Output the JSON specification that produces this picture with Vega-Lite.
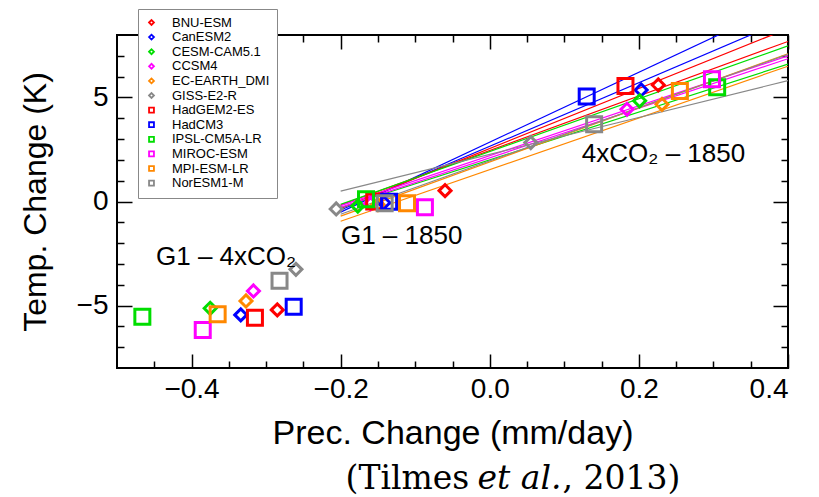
{
  "$schema": "https://vega.github.io/schema/vega-lite/v6.json",
  "width": 671,
  "height": 333,
  "autosize": {"type": "none"},
  "padding": {"left": 117, "top": 35, "right": 31, "bottom": 129},
  "background": "white",
  "config": {
    "font": "Liberation Sans",
    "view": {"stroke": "black", "strokeWidth": 2},
    "axis": {"domain": false, "grid": false, "tickColor": "black", "tickWidth": 1.5, "labelColor": "black", "titleColor": "black", "titleFontWeight": "normal", "labelFont": "Liberation Sans", "titleFont": "Liberation Sans"}
  },
  "datasets": {
    "pts": [
      {"model": "BNU-ESM", "group": "4xCO2 - 1850", "x": 0.226, "y": 5.6},
      {"model": "CanESM2", "group": "4xCO2 - 1850", "x": 0.203, "y": 5.36},
      {"model": "CESM-CAM5.1", "group": "4xCO2 - 1850", "x": 0.201, "y": 4.84},
      {"model": "CCSM4", "group": "4xCO2 - 1850", "x": 0.184, "y": 4.43},
      {"model": "EC-EARTH_DMI", "group": "4xCO2 - 1850", "x": 0.231, "y": 4.67},
      {"model": "GISS-E2-R", "group": "4xCO2 - 1850", "x": 0.055, "y": 2.83},
      {"model": "HadGEM2-ES", "group": "4xCO2 - 1850", "x": 0.182, "y": 5.55},
      {"model": "HadCM3", "group": "4xCO2 - 1850", "x": 0.13, "y": 5.04},
      {"model": "IPSL-CM5A-LR", "group": "4xCO2 - 1850", "x": 0.305, "y": 5.49},
      {"model": "MIROC-ESM", "group": "4xCO2 - 1850", "x": 0.298, "y": 5.87},
      {"model": "MPI-ESM-LR", "group": "4xCO2 - 1850", "x": 0.255, "y": 5.31},
      {"model": "NorESM1-M", "group": "4xCO2 - 1850", "x": 0.14, "y": 3.71},
      {"model": "BNU-ESM", "group": "G1 - 1850", "x": -0.06, "y": 0.52},
      {"model": "CanESM2", "group": "G1 - 1850", "x": -0.142, "y": -0.06},
      {"model": "CESM-CAM5.1", "group": "G1 - 1850", "x": -0.177, "y": -0.22},
      {"model": "CCSM4", "group": "G1 - 1850", "x": -0.16, "y": -0.1},
      {"model": "EC-EARTH_DMI", "group": "G1 - 1850", "x": -0.15, "y": -0.15},
      {"model": "GISS-E2-R", "group": "G1 - 1850", "x": -0.206, "y": -0.36},
      {"model": "HadGEM2-ES", "group": "G1 - 1850", "x": -0.155, "y": 0.0},
      {"model": "HadCM3", "group": "G1 - 1850", "x": -0.135, "y": -0.01},
      {"model": "IPSL-CM5A-LR", "group": "G1 - 1850", "x": -0.166, "y": 0.11},
      {"model": "MIROC-ESM", "group": "G1 - 1850", "x": -0.087, "y": -0.28},
      {"model": "MPI-ESM-LR", "group": "G1 - 1850", "x": -0.111, "y": -0.09},
      {"model": "NorESM1-M", "group": "G1 - 1850", "x": -0.141, "y": -0.09},
      {"model": "BNU-ESM", "group": "G1 - 4xCO2", "x": -0.285, "y": -5.21},
      {"model": "CanESM2", "group": "G1 - 4xCO2", "x": -0.334, "y": -5.45},
      {"model": "CESM-CAM5.1", "group": "G1 - 4xCO2", "x": -0.375, "y": -5.13},
      {"model": "CCSM4", "group": "G1 - 4xCO2", "x": -0.317, "y": -4.3},
      {"model": "EC-EARTH_DMI", "group": "G1 - 4xCO2", "x": -0.327, "y": -4.78},
      {"model": "GISS-E2-R", "group": "G1 - 4xCO2", "x": -0.26, "y": -3.26},
      {"model": "HadGEM2-ES", "group": "G1 - 4xCO2", "x": -0.315, "y": -5.58},
      {"model": "HadCM3", "group": "G1 - 4xCO2", "x": -0.263, "y": -5.06},
      {"model": "IPSL-CM5A-LR", "group": "G1 - 4xCO2", "x": -0.466, "y": -5.54},
      {"model": "MIROC-ESM", "group": "G1 - 4xCO2", "x": -0.385, "y": -6.17},
      {"model": "MPI-ESM-LR", "group": "G1 - 4xCO2", "x": -0.365, "y": -5.42},
      {"model": "NorESM1-M", "group": "G1 - 4xCO2", "x": -0.282, "y": -3.81}
    ],
    "fits": [
      {"fit": "HadCM3", "x": -0.2, "y": -0.51}, {"fit": "HadCM3", "x": 0.4, "y": 9.57},
      {"fit": "CanESM2", "x": -0.2, "y": -0.41}, {"fit": "CanESM2", "x": 0.4, "y": 8.77},
      {"fit": "BNU-ESM", "x": -0.2, "y": -0.33}, {"fit": "BNU-ESM", "x": 0.4, "y": 8.31},
      {"fit": "HadGEM2-ES", "x": -0.2, "y": -0.17}, {"fit": "HadGEM2-ES", "x": 0.4, "y": 7.69},
      {"fit": "CESM-CAM5.1", "x": -0.2, "y": -0.14}, {"fit": "CESM-CAM5.1", "x": 0.4, "y": 7.48},
      {"fit": "IPSL-CM5A-LR", "x": -0.2, "y": -0.3}, {"fit": "IPSL-CM5A-LR", "x": 0.4, "y": 6.6},
      {"fit": "CCSM4", "x": -0.2, "y": -0.2}, {"fit": "CCSM4", "x": 0.4, "y": 7.0},
      {"fit": "MIROC-ESM", "x": -0.2, "y": -0.28}, {"fit": "MIROC-ESM", "x": 0.4, "y": 6.86},
      {"fit": "EC-EARTH_DMI", "x": -0.2, "y": -0.95}, {"fit": "EC-EARTH_DMI", "x": 0.4, "y": 6.5},
      {"fit": "MPI-ESM-LR", "x": -0.2, "y": -0.7}, {"fit": "MPI-ESM-LR", "x": 0.4, "y": 7.1},
      {"fit": "GISS-E2-R", "x": -0.2, "y": 0.5}, {"fit": "GISS-E2-R", "x": 0.4, "y": 5.81},
      {"fit": "NorESM1-M", "x": -0.2, "y": -0.61}, {"fit": "NorESM1-M", "x": 0.4, "y": 7.07}
    ],
    "notes": [
      {"label": "4xCO₂ – 1850", "x": 0.1235, "y": 1.9},
      {"label": "G1 – 1850", "x": -0.1996, "y": -2.04},
      {"label": "G1 – 4xCO₂", "x": -0.4477, "y": -3.05}
    ],
    "cite": [
      {"part": "a", "text": "(Tilmes", "x": -0.0275, "y": -13.82},
      {"part": "b", "text": "et al.", "x": -0.0165, "y": -13.82},
      {"part": "c", "text": ", 2013)", "x": 0.0975, "y": -13.82}
    ]
  },
  "resolve": {"axis": {"x": "independent", "y": "independent"}},
  "layer": [
    {
      "data": {"name": "fits"},
      "mark": {"type": "line", "clip": true, "strokeWidth": 1.2},
      "encoding": {
        "x": {"field": "x", "type": "quantitative", "scale": {"domain": [-0.5, 0.4], "nice": false, "zero": false},
              "axis": {"orient": "bottom", "values": [-0.4, -0.2, 0, 0.2, 0.4], "ticks": false, "labelFontSize": 28, "labelPadding": 7, "format": ".1f", "title": "Prec. Change (mm/day)", "titleFontSize": 34, "titleY": 48, "titleBaseline": "top"}},
        "y": {"field": "y", "type": "quantitative", "scale": {"domain": [-8, 8], "nice": false, "zero": false},
              "axis": {"orient": "left", "values": [-5, 0, 5], "ticks": false, "labelFontSize": 28, "labelPadding": 9, "format": "d", "title": "Temp. Change (K)", "titleFontSize": 32, "titleX": -65, "titleBaseline": "bottom"}},
        "stroke": {"field": "fit", "type": "nominal", "legend": null,
                   "scale": {"domain": ["HadCM3", "CanESM2", "BNU-ESM", "HadGEM2-ES", "CESM-CAM5.1", "IPSL-CM5A-LR", "CCSM4", "MIROC-ESM", "EC-EARTH_DMI", "MPI-ESM-LR", "GISS-E2-R", "NorESM1-M"],
                             "range": ["#0000ff", "#0000ff", "#ff0000", "#ff0000", "#00dd00", "#00dd00", "#ff00ff", "#ff00ff", "#ff8800", "#ff8800", "#888888", "#888888"]}}
      }
    },
    {
      "data": {"name": "pts"},
      "transform": [{"filter": {"field": "model", "oneOf": ["BNU-ESM", "CanESM2", "CESM-CAM5.1", "CCSM4", "EC-EARTH_DMI", "GISS-E2-R"]}}],
      "mark": {"type": "point", "filled": false, "strokeWidth": 3, "opacity": 1, "size": 144},
      "encoding": {
        "x": {"field": "x", "type": "quantitative", "scale": {"domain": [-0.5, 0.4], "nice": false, "zero": false},
              "axis": {"orient": "bottom", "values": [-0.4, -0.2, 0, 0.2, 0.4], "labels": false, "tickSize": -14, "title": null}},
        "y": {"field": "y", "type": "quantitative", "scale": {"domain": [-8, 8], "nice": false, "zero": false},
              "axis": {"orient": "left", "values": [-5, 0, 5], "labels": false, "tickSize": -15, "title": null}},
        "color": {"field": "model", "type": "nominal",
                  "scale": {"domain": ["BNU-ESM", "CanESM2", "CESM-CAM5.1", "CCSM4", "EC-EARTH_DMI", "GISS-E2-R", "HadGEM2-ES", "HadCM3", "IPSL-CM5A-LR", "MIROC-ESM", "MPI-ESM-LR", "NorESM1-M"],
                            "range": ["#ff0000", "#0000ff", "#00dd00", "#ff00ff", "#ff8800", "#888888", "#ff0000", "#0000ff", "#00dd00", "#ff00ff", "#ff8800", "#888888"]},
                  "legend": {"title": null, "orient": "none", "legendX": 21, "legendY": -26, "labelFontSize": 13, "labelFont": "Liberation Sans", "labelColor": "black", "symbolSize": 24, "symbolStrokeWidth": 1.8, "rowPadding": 0.6, "padding": 7, "strokeColor": "#888888", "fillColor": "white", "labelOffset": 14}},
        "shape": {"field": "model", "type": "nominal",
                  "scale": {"domain": ["BNU-ESM", "CanESM2", "CESM-CAM5.1", "CCSM4", "EC-EARTH_DMI", "GISS-E2-R", "HadGEM2-ES", "HadCM3", "IPSL-CM5A-LR", "MIROC-ESM", "MPI-ESM-LR", "NorESM1-M"],
                            "range": ["diamond", "diamond", "diamond", "diamond", "diamond", "diamond", "square", "square", "square", "square", "square", "square"]},
                  "legend": {"title": null, "orient": "none", "legendX": 21, "legendY": -26, "labelFontSize": 13, "labelFont": "Liberation Sans", "labelColor": "black", "symbolSize": 24, "symbolStrokeWidth": 1.8, "rowPadding": 0.6, "padding": 7, "strokeColor": "#888888", "fillColor": "white", "labelOffset": 14}}
      }
    },
    {
      "data": {"name": "pts"},
      "transform": [{"filter": {"field": "model", "oneOf": ["HadGEM2-ES", "HadCM3", "IPSL-CM5A-LR", "MIROC-ESM", "MPI-ESM-LR", "NorESM1-M"]}}],
      "mark": {"type": "point", "filled": false, "strokeWidth": 3, "opacity": 1, "size": 225},
      "encoding": {
        "x": {"field": "x", "type": "quantitative", "scale": {"domain": [-0.5, 0.4], "nice": false, "zero": false}, "axis": null},
        "y": {"field": "y", "type": "quantitative", "scale": {"domain": [-8, 8], "nice": false, "zero": false}, "axis": null},
        "color": {"field": "model", "type": "nominal",
                  "scale": {"domain": ["BNU-ESM", "CanESM2", "CESM-CAM5.1", "CCSM4", "EC-EARTH_DMI", "GISS-E2-R", "HadGEM2-ES", "HadCM3", "IPSL-CM5A-LR", "MIROC-ESM", "MPI-ESM-LR", "NorESM1-M"],
                            "range": ["#ff0000", "#0000ff", "#00dd00", "#ff00ff", "#ff8800", "#888888", "#ff0000", "#0000ff", "#00dd00", "#ff00ff", "#ff8800", "#888888"]},
                  "legend": {"title": null, "orient": "none", "legendX": 21, "legendY": -26, "labelFontSize": 13, "labelFont": "Liberation Sans", "labelColor": "black", "symbolSize": 24, "symbolStrokeWidth": 1.8, "rowPadding": 0.6, "padding": 7, "strokeColor": "#888888", "fillColor": "white", "labelOffset": 14}},
        "shape": {"field": "model", "type": "nominal",
                  "scale": {"domain": ["BNU-ESM", "CanESM2", "CESM-CAM5.1", "CCSM4", "EC-EARTH_DMI", "GISS-E2-R", "HadGEM2-ES", "HadCM3", "IPSL-CM5A-LR", "MIROC-ESM", "MPI-ESM-LR", "NorESM1-M"],
                            "range": ["diamond", "diamond", "diamond", "diamond", "diamond", "diamond", "square", "square", "square", "square", "square", "square"]},
                  "legend": {"title": null, "orient": "none", "legendX": 21, "legendY": -26, "labelFontSize": 13, "labelFont": "Liberation Sans", "labelColor": "black", "symbolSize": 24, "symbolStrokeWidth": 1.8, "rowPadding": 0.6, "padding": 7, "strokeColor": "#888888", "fillColor": "white", "labelOffset": 14}}
      }
    },
    {
      "data": {"name": "notes"},
      "mark": {"type": "text", "align": "left", "baseline": "alphabetic", "fontSize": 26, "font": "Liberation Sans", "color": "black"},
      "encoding": {
        "x": {"field": "x", "type": "quantitative", "scale": {"domain": [-0.5, 0.4], "nice": false, "zero": false},
              "axis": {"orient": "bottom", "values": [-0.45, -0.35, -0.3, -0.25, -0.15, -0.1, -0.05, 0.05, 0.1, 0.15, 0.25, 0.3, 0.35], "labels": false, "tickSize": -7, "title": null}},
        "y": {"field": "y", "type": "quantitative", "scale": {"domain": [-8, 8], "nice": false, "zero": false},
              "axis": {"orient": "left", "values": [-7, -6, -4, -3, -2, -1, 1, 2, 3, 4, 6, 7], "labels": false, "tickSize": -7, "title": null}},
        "text": {"field": "label"}
      }
    },
    {
      "data": {"name": "cite"},
      "transform": [{"filter": "datum.part == 'a'"}],
      "mark": {"type": "text", "align": "right", "baseline": "alphabetic", "fontSize": 33, "font": "DejaVu Serif", "color": "black"},
      "encoding": {
        "x": {"field": "x", "type": "quantitative", "scale": {"domain": [-0.5, 0.4], "nice": false, "zero": false},
              "axis": {"orient": "top", "values": [-0.4, -0.2, 0, 0.2, 0.4], "labels": false, "tickSize": -14, "title": null}},
        "y": {"field": "y", "type": "quantitative", "scale": {"domain": [-8, 8], "nice": false, "zero": false},
              "axis": {"orient": "right", "values": [-5, 0, 5], "labels": false, "tickSize": -15, "title": null}},
        "text": {"field": "text"}
      }
    },
    {
      "data": {"name": "cite"},
      "transform": [{"filter": "datum.part == 'b'"}],
      "mark": {"type": "text", "align": "left", "baseline": "alphabetic", "fontSize": 33, "font": "DejaVu Serif", "fontStyle": "italic", "color": "black"},
      "encoding": {
        "x": {"field": "x", "type": "quantitative", "scale": {"domain": [-0.5, 0.4], "nice": false, "zero": false},
              "axis": {"orient": "top", "values": [-0.45, -0.35, -0.3, -0.25, -0.15, -0.1, -0.05, 0.05, 0.1, 0.15, 0.25, 0.3, 0.35], "labels": false, "tickSize": -7, "title": null}},
        "y": {"field": "y", "type": "quantitative", "scale": {"domain": [-8, 8], "nice": false, "zero": false},
              "axis": {"orient": "right", "values": [-7, -6, -4, -3, -2, -1, 1, 2, 3, 4, 6, 7], "labels": false, "tickSize": -7, "title": null}},
        "text": {"field": "text"}
      }
    },
    {
      "data": {"name": "cite"},
      "transform": [{"filter": "datum.part == 'c'"}],
      "mark": {"type": "text", "align": "left", "baseline": "alphabetic", "fontSize": 33, "font": "DejaVu Serif", "color": "black"},
      "encoding": {
        "x": {"field": "x", "type": "quantitative", "scale": {"domain": [-0.5, 0.4], "nice": false, "zero": false}, "axis": null},
        "y": {"field": "y", "type": "quantitative", "scale": {"domain": [-8, 8], "nice": false, "zero": false}, "axis": null},
        "text": {"field": "text"}
      }
    },
    {
      "mark": {"type": "rule", "color": "black", "strokeWidth": 2},
      "encoding": {"x": {"datum": 0, "type": "quantitative", "axis": null}}
    },
    {
      "mark": {"type": "rule", "color": "black", "strokeWidth": 2},
      "encoding": {"y": {"datum": 0, "type": "quantitative", "axis": null}}
    }
  ]
}
